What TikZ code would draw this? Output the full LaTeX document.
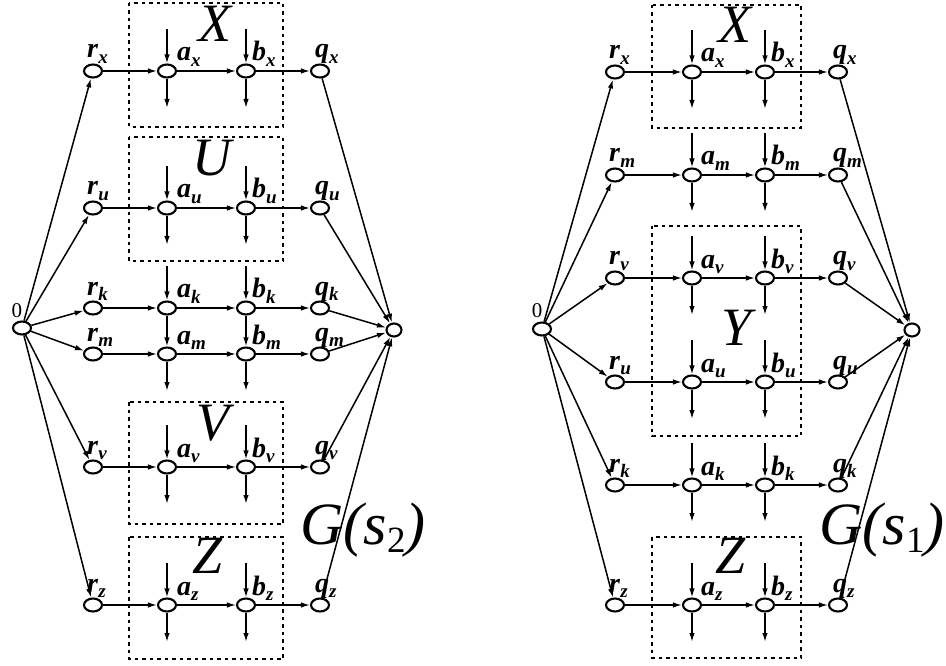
\documentclass[tikz,border=0pt]{standalone}
\usepackage{fontspec}
\setmainfont{Liberation Serif}
\usetikzlibrary{arrows.meta,positioning,shapes.geometric}

\newcommand{\vlab}[2]{\textbf{\textit{#1}}\raisebox{-0.45ex}{\fontsize{19}{19}\selectfont\textbf{\textit{#2}}}}

\begin{document}
\begin{tikzpicture}[x=1pt, y=-1pt,
  vtx/.style={draw, ellipse, line width=2.1pt, minimum width=18pt, minimum height=13pt, inner sep=0pt},
  arr/.style={line width=1.5pt, -{Latex[length=9pt,width=5.5pt]}},
  lbl/.style={inner sep=0pt, font=\fontsize{28}{28}\selectfont},
  big/.style={inner sep=0pt, font=\fontsize{54}{54}\selectfont\itshape},
  blk/.style={draw, line width=1.4pt, dash pattern=on 3.5pt off 4pt}]

\useasboundingbox (0,0) rectangle (946,666);

% ---- G(s_2) ----
\draw[blk] (129,3) rectangle (283,127);
\draw[blk] (129,137) rectangle (283,261);
\draw[blk] (129,402) rectangle (283,524);
\draw[blk] (129,537) rectangle (283,659);
\node[big] (L-X) at (215,24) {X};
\node[big] (L-U) at (212,158) {U};
\node[big] (L-V) at (213,423) {V};
\node[big] (L-Z) at (208,556) {Z};

\node[vtx] (L0) at (22,328) {};
\node[inner sep=0pt, anchor=south, font=\fontsize{21}{21}\selectfont] (L0-lab) at (17,318) {0};
\node[vtx, minimum width=15pt] (Lt) at (394,330) {};

\foreach \n/\y in {x/71,u/208,k/308,m/354,v/467,z/605}{
  \node[vtx] (L-r-\n) at (93,\y) {};
  \node[vtx] (L-a-\n) at (167,\y) {};
  \node[vtx] (L-b-\n) at (246,\y) {};
  \node[vtx] (L-q-\n) at (320,\y) {};
  \node[lbl, anchor=base west] (L-r-\n-lab) at (87,\y-13) {\vlab{r}{\n}};
  \node[lbl, anchor=base west] (L-a-\n-lab) at (177,\y-10) {\vlab{a}{\n}};
  \node[lbl, anchor=base west] (L-b-\n-lab) at (252,\y-10) {\vlab{b}{\n}};
  \node[lbl, anchor=base west] (L-q-\n-lab) at (315,\y-13) {\vlab{q}{\n}};
  \draw[arr] (L0) -- (L-r-\n);
  \draw[arr] (L-r-\n) -- (L-a-\n);
  \draw[arr] (L-a-\n) -- (L-b-\n);
  \draw[arr] (L-b-\n) -- (L-q-\n);
  \draw[arr] (L-q-\n) -- (Lt);
}
% sets in / out
\foreach \n in {x,u,k,v,z}{
  \draw[arr] (L-a-\n) ++(0,-42) -- (L-a-\n);
  \draw[arr] (L-b-\n) ++(0,-42) -- (L-b-\n);
}
\foreach \n in {x,u,m,v,z}{
  \draw[arr] (L-a-\n) -- ++(0,37);
  \draw[arr] (L-b-\n) -- ++(0,37);
}
\draw[arr] (L-a-k) -- (L-a-m);
\draw[arr] (L-b-k) -- (L-b-m);

\node[big, font=\fontsize{60}{60}\selectfont\itshape] (L-G) at (363,530) {G(s\raisebox{-0.3ex}{\fontsize{37}{37}\selectfont\upshape 2})};

% ---- G(s_1) ----
\draw[blk] (652,5) rectangle (801,128);
\draw[blk] (652,226) rectangle (801,436);
\draw[blk] (652,537) rectangle (801,658);
\node[big] (R-X) at (735,25) {X};
\node[big] (R-Y) at (737,328) {Y};
\node[big] (R-Z) at (731,556) {Z};

\node[vtx] (R0) at (542,329) {};
\node[inner sep=0pt, anchor=south, font=\fontsize{21}{21}\selectfont] (R0-lab) at (537,318) {0};
\node[vtx, minimum width=15pt] (Rt) at (912,330) {};

\foreach \n/\y in {x/72,m/175,v/278,u/382,k/485,z/605}{
  \node[vtx] (R-r-\n) at (615,\y) {};
  \node[vtx] (R-a-\n) at (692,\y) {};
  \node[vtx] (R-b-\n) at (765,\y) {};
  \node[vtx] (R-q-\n) at (838,\y) {};
  \node[lbl, anchor=base west] (R-r-\n-lab) at (609,\y-13) {\vlab{r}{\n}};
  \node[lbl, anchor=base west] (R-a-\n-lab) at (701,\y-10) {\vlab{a}{\n}};
  \node[lbl, anchor=base west] (R-b-\n-lab) at (771,\y-10) {\vlab{b}{\n}};
  \node[lbl, anchor=base west] (R-q-\n-lab) at (833,\y-13) {\vlab{q}{\n}};
  \draw[arr] (R0) -- (R-r-\n);
  \draw[arr] (R-r-\n) -- (R-a-\n);
  \draw[arr] (R-a-\n) -- (R-b-\n);
  \draw[arr] (R-b-\n) -- (R-q-\n);
  \draw[arr] (R-q-\n) -- (Rt);
  \draw[arr] (R-a-\n) ++(0,-42) -- (R-a-\n);
  \draw[arr] (R-b-\n) ++(0,-42) -- (R-b-\n);
  \draw[arr] (R-a-\n) -- ++(0,37);
  \draw[arr] (R-b-\n) -- ++(0,37);
}

\node[big, font=\fontsize{60}{60}\selectfont\itshape] (R-G) at (882,530) {G(s\raisebox{-0.3ex}{\fontsize{37}{37}\selectfont\upshape 1})};

\end{tikzpicture}
\end{document}
